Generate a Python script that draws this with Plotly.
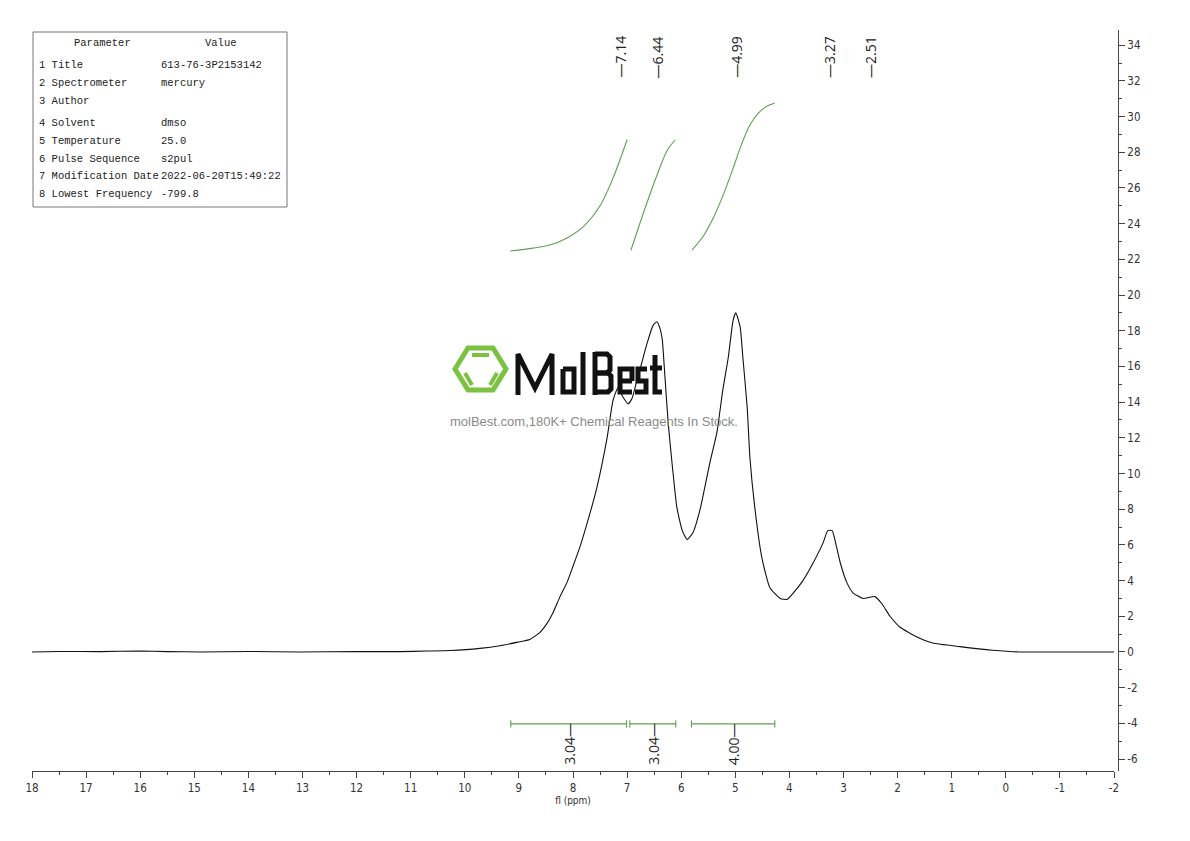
import plotly.graph_objects as go

# ---------------- data ----------------
spec_ppm = [18.0, 17.5, 16.74, 16.0, 15.5, 14.89, 14.0, 13.05, 12.0, 11.2, 10.7, 10.27, 9.72,
            9.35, 9.02, 8.80, 8.61, 8.48, 8.37, 8.24, 8.11, 8.00, 7.87, 7.74, 7.56, 7.37,
            7.26, 7.17, 7.08, 6.98, 6.91, 6.82, 6.72, 6.63, 6.52, 6.45, 6.39, 6.35, 6.30,
            6.24, 6.17, 6.08, 5.98, 5.89, 5.78, 5.65, 5.47, 5.34, 5.23, 5.13, 5.04, 4.99,
            4.91, 4.86, 4.78, 4.73, 4.64, 4.51, 4.36, 4.17, 4.04, 3.93, 3.75, 3.56, 3.38,
            3.29, 3.21, 3.16, 3.06, 2.94, 2.82, 2.64, 2.42, 2.29, 2.14, 1.96, 1.64, 1.35,
            0.85, 0.24, -0.26, -1.0, -2.0]
spec_int = [0.0, 0.03, 0.02, 0.05, 0.02, 0.0, 0.03, 0.0, 0.02, 0.02, 0.05, 0.08, 0.2,
            0.35, 0.55, 0.7, 1.1, 1.6, 2.2, 3.1, 3.9, 4.8, 5.9, 7.2, 9.2, 12.0,
            14.1, 14.8, 14.3, 13.9, 14.2, 15.2, 16.3, 17.3, 18.3, 18.5, 18.1, 17.5, 15.4,
            12.8, 10.6, 8.1, 6.8, 6.3, 6.7, 8.0, 10.6, 12.3, 14.7, 16.5, 18.6, 19.0,
            18.2, 16.5, 13.7, 10.9, 8.1, 5.3, 3.6, 3.0, 2.95, 3.3, 4.0, 5.0, 6.1,
            6.8, 6.8, 6.3, 5.0, 3.9, 3.3, 3.0, 3.1, 2.7, 2.0, 1.4, 0.84, 0.5,
            0.3, 0.1, 0.0, 0.0, 0.0]

peak_labels = [7.14, 6.44, 4.99, 3.27, 2.51]

int_start = [9.15, 6.95, 5.81]
int_end = [7.01, 6.10, 4.27]
int_values = [3.04, 3.04, 4.00]

integ1_ppm = [9.16, 8.74, 8.43, 8.11, 7.82, 7.50, 7.26, 7.00]
integ1_val = [22.47, 22.63, 22.8, 23.2, 23.8, 25.0, 26.55, 28.7]
integ2_ppm = [6.93, 6.71, 6.45, 6.26, 6.11]
integ2_val = [22.5, 24.5, 26.7, 28.1, 28.7]
integ3_ppm = [5.80, 5.59, 5.39, 5.21, 5.04, 4.89, 4.74, 4.57, 4.41, 4.27]
integ3_val = [22.52, 23.31, 24.43, 25.71, 27.11, 28.40, 29.47, 30.20, 30.59, 30.76]

x_tick_vals = list(range(18, -3, -1))
x_tick_text = [str(v) for v in x_tick_vals]
y_tick_vals = list(range(-6, 35, 2))
y_tick_text = [str(v) for v in y_tick_vals]

param_names = ["1 Title", "2 Spectrometer", "3 Author", "4 Solvent", "5 Temperature",
               "6 Pulse Sequence", "7 Modification Date", "8 Lowest Frequency"]
param_values = ["613-76-3P2153142", "mercury", "", "dmso", "25.0", "s2pul",
                "2022-06-20T15:49:22", "-799.8"]

# ---------------- layout helpers ----------------
L, R, T, B = 32, 1118, 30, 771
W, H = R - L, B - T


def PX(x):
    return (x - L) / W


def PY(y):
    return (B - y) / H


def pth(pts, closed=False):
    s = "M " + " L ".join(f"{PX(a):.5f},{PY(b):.5f}" for a, b in pts)
    return s + (" Z" if closed else "")


GREEN = "#5f9f4f"
fig = go.Figure()

fig.add_trace(go.Scatter(x=spec_ppm, y=spec_int, mode="lines",
                         line=dict(color="#111111", width=1.1, shape="spline", smoothing=0.5),
                         hoverinfo="skip"))

for px_, pv_ in [(integ1_ppm, integ1_val), (integ2_ppm, integ2_val), (integ3_ppm, integ3_val)]:
    fig.add_trace(go.Scatter(x=px_, y=pv_, mode="lines",
                             line=dict(color=GREEN, width=1.1, shape="spline", smoothing=0.8),
                             hoverinfo="skip"))

BAR_Y = -4.03
bx, by = [], []
for s, e in zip(int_start, int_end):
    bx += [s, e, None, s, s, None, e, e, None]
    by += [BAR_Y, BAR_Y, None, BAR_Y - 0.2, BAR_Y + 0.2, None, BAR_Y - 0.2, BAR_Y + 0.2, None]
fig.add_trace(go.Scatter(x=bx, y=by, mode="lines", line=dict(color=GREEN, width=1.1),
                         hoverinfo="skip"))

LABF = dict(family="Open Sans", size=14, color="#222222")
ann = []
for p in peak_labels:
    ann.append(dict(x=p, xref="x", y=PY(57), yref="paper", text=f"—{p:.2f}",
                    textangle=-90, showarrow=False, xanchor="center", yanchor="middle",
                    font=LABF))
for s, e, v in zip(int_start, int_end, int_values):
    ann.append(dict(x=(s + e) / 2, xref="x", y=PY(744), yref="paper", text=f"{v:.2f}—",
                    textangle=-90, showarrow=False, xanchor="center", yanchor="middle",
                    font=LABF))

# parameter table
TF = dict(family="Liberation Mono", size=10.5, color="#222222")
ann.append(dict(x=PX(102), y=PY(43), xref="paper", yref="paper", text="Parameter",
                showarrow=False, font=TF, xanchor="center", yanchor="middle"))
ann.append(dict(x=PX(221), y=PY(43), xref="paper", yref="paper", text="Value",
                showarrow=False, font=TF, xanchor="center", yanchor="middle"))
row_y = [65, 83, 101, 123, 141, 159, 176, 194]
for ry, n, v in zip(row_y, param_names, param_values):
    ann.append(dict(x=PX(37), y=PY(ry), xref="paper", yref="paper", text=n,
                    showarrow=False, font=TF, xanchor="left", yanchor="middle"))
    if v:
        ann.append(dict(x=PX(159), y=PY(ry), xref="paper", yref="paper", text=v,
                        showarrow=False, font=TF, xanchor="left", yanchor="middle"))

# watermark subtitle
ann.append(dict(x=PX(594), y=PY(421), xref="paper", yref="paper",
                text="molBest.com,180K+ Chemical Reagents In Stock.", showarrow=False,
                xanchor="center", yanchor="middle",
                font=dict(family="Liberation Sans", size=13, color="#8a8a8a")))

shapes = [dict(type="rect", xref="paper", yref="paper", x0=PX(33), x1=PX(287),
               y0=PY(207), y1=PY(32), line=dict(color="#777777", width=1))]

# logo hexagon
hexpts = [(455, 369), (468, 348), (493, 348), (506, 369), (493, 390), (468, 390)]
shapes.append(dict(type="path", xref="paper", yref="paper", path=pth(hexpts, True),
                   line=dict(color="#7cc242", width=5)))
for seg in [[(472, 355), (489, 355)], [(465, 373), (472, 385)], [(497, 373), (490, 385)]]:
    shapes.append(dict(type="path", xref="paper", yref="paper", path=pth(seg),
                       line=dict(color="#7cc242", width=4)))

# logo letters "MolBest"
letters = [
    [(518, 395), (518, 354), (535, 388), (552, 354), (552, 395)],
    [(563, 369), (574, 369), (574, 392), (563, 392), (563, 369)],
    [(583, 352), (583, 395)],
    [(595, 354), (607, 354), (610, 357), (610, 370), (607, 373), (595, 373)],
    [(595, 373), (608, 373), (611, 376), (611, 389), (608, 392), (595, 392)],
    [(595, 352), (595, 395)],
    [(632, 381), (632, 369), (620, 369), (620, 392), (632, 392)],
    [(620, 381), (632, 381)],
    [(647, 369), (638, 369), (638, 381), (646, 381), (646, 392), (635, 392)],
    [(655, 355), (655, 392), (662, 392)],
    [(650, 368), (662, 368)],
]
for seg in letters:
    shapes.append(dict(type="path", xref="paper", yref="paper", path=pth(seg),
                       line=dict(color="#111111", width=5)))

TICKF = dict(family="DejaVu Sans Condensed, DejaVu Sans", size=11.5, color="#333333")
fig.update_layout(
    width=1190, height=841,
    margin=dict(l=L, r=1190 - R, t=T, b=841 - B),
    paper_bgcolor="white", plot_bgcolor="white",
    showlegend=False,
    annotations=ann, shapes=shapes,
    xaxis=dict(range=[18, -2], domain=[0, (1114 - L) / W], showgrid=False, zeroline=False,
               showline=True, linecolor="#444444", linewidth=1,
               ticks="outside", ticklen=6, tickcolor="#444444",
               tickvals=x_tick_vals, ticktext=x_tick_text, tickfont=TICKF,
               minor=dict(dtick=0.5, tick0=0, ticks="outside", ticklen=3, tickcolor="#444444"),
               title=dict(text="fl (ppm)", font=dict(family="DejaVu Sans Condensed, DejaVu Sans",
                                                     size=10, color="#333333"), standoff=2)),
    yaxis=dict(range=[-6.67, 34.85], anchor="free", position=1, side="right",
               showgrid=False, zeroline=False,
               showline=True, linecolor="#444444", linewidth=1,
               ticks="outside", ticklen=6, tickcolor="#444444",
               tickvals=y_tick_vals, ticktext=y_tick_text, tickfont=TICKF,
               minor=dict(dtick=1, tick0=0, ticks="outside", ticklen=3, tickcolor="#444444")),
)

fig.write_html("out.html")
